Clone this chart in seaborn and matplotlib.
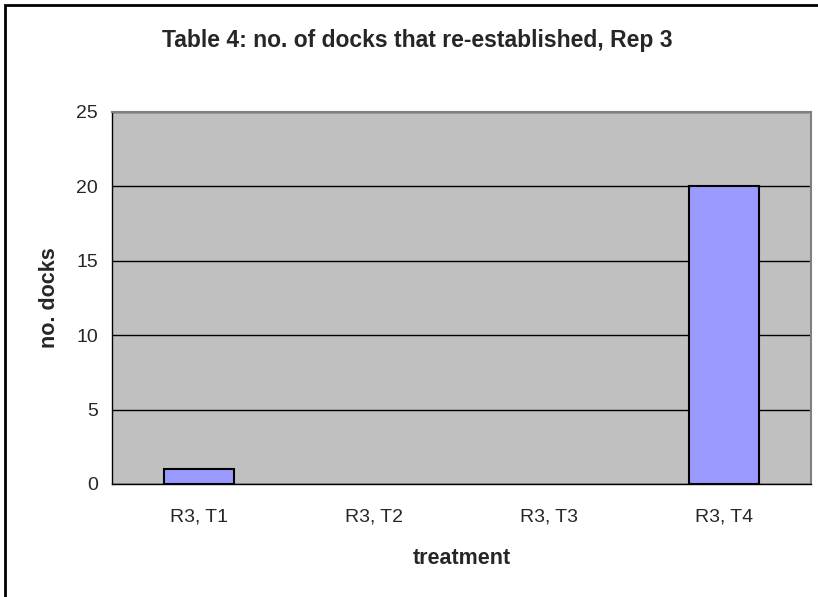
import matplotlib
matplotlib.use("Agg")
import matplotlib.pyplot as plt
import numpy as np
import pandas as pd
import seaborn as sns
from matplotlib.patches import Rectangle

# --- data ---
treatments = ["R3, T1", "R3, T2", "R3, T3", "R3, T4"]
docks = [1, 0, 0, 20]
y_ticks = [0, 5, 10, 15, 20, 25]

df = pd.DataFrame({"treatment": treatments, "docks": docks})

sns.set_style("white")
plt.rcParams["font.family"] = ["Liberation Sans", "DejaVu Sans"]

W, H = 818, 597
fig = plt.figure(figsize=(W / 100, H / 100), dpi=100)
# plot area in pixels: x 112..811, y 112..484
ax = fig.add_axes([112 / W, 1 - 484 / H, (811 - 112) / W, (484 - 112) / H])

sns.barplot(data=df, x="treatment", y="docks", color="#9999FF", width=0.4,
            edgecolor="black", linewidth=1.5, saturation=1, ax=ax, zorder=3)

# Excel draws nothing for zero-height bars
for bar in ax.patches:
    if bar.get_height() == 0:
        bar.set_visible(False)

ax.set_facecolor("#C0C0C0")
ax.set_ylim(0, 25)
ax.set_xlim(-0.5, len(treatments) - 0.5)
ax.set_yticks(y_ticks)
ax.yaxis.grid(True, color="black", linewidth=1)
ax.set_axisbelow(True)

# x ticks sit on category boundaries
ax.set_xticks(np.arange(-0.5, len(treatments)), minor=True)
ax.tick_params(axis="x", which="major", length=0, pad=18, labelsize=14)
ax.tick_params(axis="x", which="minor", length=5, width=1, color="black", direction="out")
ax.tick_params(axis="y", length=5, width=1, color="black", direction="out", labelsize=14, pad=5)

for side in ["top", "right"]:
    ax.spines[side].set_color("#808080")
    ax.spines[side].set_linewidth(1.5)
for side in ["left", "bottom"]:
    ax.spines[side].set_color("black")
    ax.spines[side].set_linewidth(1)

ax.set_xlabel("treatment", fontsize=15.5, fontweight="bold", labelpad=16)
ax.set_ylabel("no. docks", fontsize=15.5, fontweight="bold", labelpad=12)
fig.text(417 / W, 1 - 47 / H, "Table 4: no. of docks that re-established, Rep 3",
         ha="center", va="baseline", fontsize=16.5, fontweight="bold")

# chart border (right and bottom edges fall outside the image)
fig.patches.append(Rectangle((5 / W, -0.01), 1.02, 1 - 5 / H + 0.01,
                             transform=fig.transFigure, fill=False,
                             edgecolor="black", linewidth=2))

fig.savefig("out.png", dpi=100)
